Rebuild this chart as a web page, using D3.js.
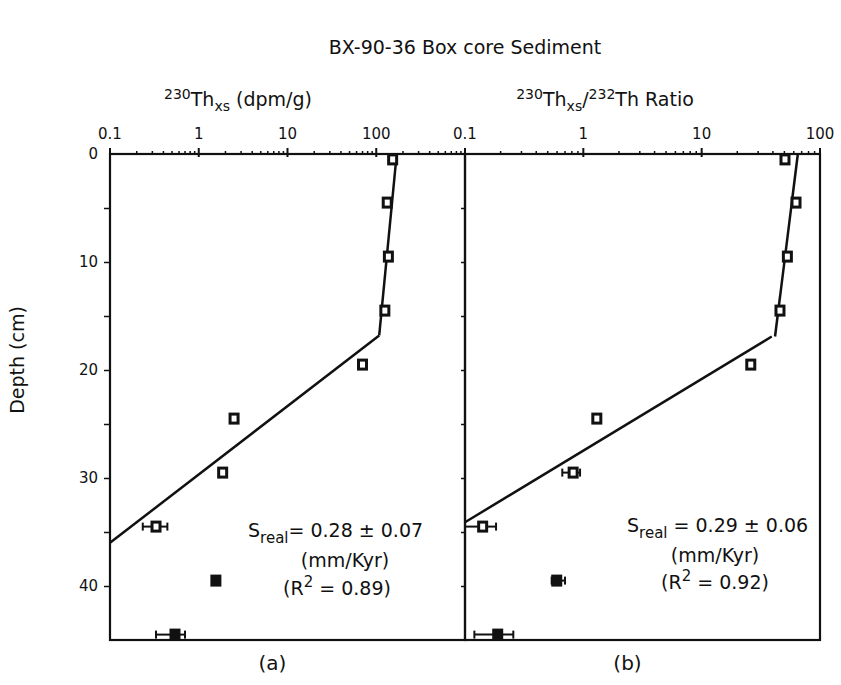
<!DOCTYPE html>
<html lang="en">

<head>
  <meta charset="utf-8">
  <title>BX-90-36 Box core Sediment</title>
  <script type="text/javascript" src="https://cdn.jsdelivr.net/npm/d3@7"></script>
  <style>
    body { margin: 0; background: #fff; }
    text { font-family: "DejaVu Sans", sans-serif; fill: #111; }
  </style>
</head>

<body>

  <script type="text/javascript">

    // Sample depths (cm), same for both panels
    var depth = [0.5, 4.5, 9.5, 14.5, 19.5, 24.5, 29.5, 34.5, 39.5, 44.5];

    // Filled squares = points left out of the fit
    var filled = [false, false, false, false, false, false, false, false, true, true];

    // Panel (a): 230Th excess (dpm/g)
    var thxs = [153, 133, 137, 125, 70, 2.5, 1.86, 0.33, 1.56, 0.54];
    var thxsLow = [null, null, null, null, null, null, null, 0.234, null, 0.33];
    var thxsHigh = [null, null, null, null, null, null, null, 0.443, null, 0.70];

    // Panel (b): 230Th excess / 232Th ratio
    var ratio = [50.6, 62.7, 53, 45.9, 26, 1.30, 0.82, 0.141, 0.596, 0.189];
    var ratioLow = [null, null, null, null, null, null, 0.664, 0.1, 0.54, 0.12];
    var ratioHigh = [null, null, null, null, null, null, 0.938, 0.183, 0.70, 0.256];

    // Fit lines as [value, depth] pairs
    var fitA = [[[170, 0], [108, 16.8]], [[108, 16.8], [0.1, 36.0]]];
    var fitB = [[[65, 0], [41.7, 16.9]], [[39.1, 16.9], [0.1, 34.1]]];

    var depthTicks = [0, 10, 20, 30, 40];

    var w = 841;
    var h = 685;
    var yTop = 154;
    var yBottom = 640;

    var svg = d3.select("body")
      .append("svg")
      .attr("width", w)
      .attr("height", h);

    // Depth scale shared by both panels
    var yScale = d3.scaleLinear()
      .domain([0, 45])
      .range([yTop, yBottom]);

    var panels = [
      {
        x0: 110, x1: 465, domain: [0.1, 1000], labels: [0.1, 1, 10, 100],
        values: thxs, low: thxsLow, high: thxsHigh, fit: fitA, tag: "(a)",
        sreal: "= 0.28 \u00b1 0.07", r2: "0.89",
        sx: 248, sy: 537, nx: 345, ny: 567, rx: 337, ry: 595
      },
      {
        x0: 465, x1: 820, domain: [0.1, 100], labels: [0.1, 1, 10, 100],
        values: ratio, low: ratioLow, high: ratioHigh, fit: fitB, tag: "(b)",
        sreal: " = 0.29 \u00b1 0.06", r2: "0.92",
        sx: 627, sy: 532, nx: 715, ny: 562, rx: 715, ry: 589
      }
    ];

    panels.forEach(function (p) {

      var xScale = d3.scaleLog()
        .domain(p.domain)
        .range([p.x0, p.x1]);

      var g = svg.append("g");

      // Minor log ticks on the top edge
      var minor = [];
      var lo = Math.log10(p.domain[0]), hi = Math.log10(p.domain[1]);
      for (var e = lo; e < hi - 0.01; e++) {
        for (var k = 2; k <= 9; k++) minor.push(k * Math.pow(10, e));
      }
      g.selectAll(".minor")
        .data(minor)
        .enter()
        .append("line")
        .attr("x1", function (d) { return xScale(d); })
        .attr("x2", function (d) { return xScale(d); })
        .attr("y1", yTop)
        .attr("y2", yTop - 3)
        .attr("stroke", "#111")
        .attr("stroke-width", 1.5);

      // Major ticks
      g.selectAll(".major")
        .data(p.labels)
        .enter()
        .append("line")
        .attr("x1", function (d) { return xScale(d); })
        .attr("x2", function (d) { return xScale(d); })
        .attr("y1", yTop - 6)
        .attr("y2", yTop + 3)
        .attr("stroke", "#111")
        .attr("stroke-width", 2);

      // Tick labels
      g.selectAll(".xlab")
        .data(p.labels)
        .enter()
        .append("text")
        .attr("x", function (d) { return xScale(d); })
        .attr("y", yTop - 15)
        .attr("text-anchor", "middle")
        .attr("font-size", "15px")
        .text(function (d) { return d; });

      // Frame
      g.append("rect")
        .attr("x", p.x0)
        .attr("y", yTop)
        .attr("width", p.x1 - p.x0)
        .attr("height", yBottom - yTop)
        .attr("fill", "none")
        .attr("stroke", "#111")
        .attr("stroke-width", 2.2);

      // Fit lines
      var line = d3.line()
        .x(function (d) { return xScale(d[0]); })
        .y(function (d) { return yScale(d[1]); });

      g.selectAll(".fit")
        .data(p.fit)
        .enter()
        .append("path")
        .attr("d", line)
        .attr("fill", "none")
        .attr("stroke", "#111")
        .attr("stroke-width", 2.5);

      // Error bars
      var bars = d3.range(depth.length).filter(function (i) { return p.low[i] != null; });
      bars.forEach(function (i) {
        var yy = yScale(depth[i]);
        g.append("line")
          .attr("x1", xScale(p.low[i])).attr("x2", xScale(p.high[i]))
          .attr("y1", yy).attr("y2", yy)
          .attr("stroke", "#111").attr("stroke-width", 2);
        [p.low[i], p.high[i]].forEach(function (v) {
          g.append("line")
            .attr("x1", xScale(v)).attr("x2", xScale(v))
            .attr("y1", yy - 4).attr("y2", yy + 4)
            .attr("stroke", "#111").attr("stroke-width", 2);
        });
      });

      // Data squares
      g.selectAll(".pt")
        .data(p.values)
        .enter()
        .append("rect")
        .attr("x", function (d) { return xScale(d) - 4; })
        .attr("y", function (d, i) { return yScale(depth[i]) - 4.5; })
        .attr("width", 8)
        .attr("height", 9)
        .attr("fill", function (d, i) { return filled[i] ? "#111" : "#fff"; })
        .attr("stroke", "#111")
        .attr("stroke-width", 3);

      // Fit annotation
      var s = g.append("text")
        .attr("x", p.sx)
        .attr("y", p.sy)
        .attr("font-size", "19px");
      s.append("tspan").text("S");
      s.append("tspan").attr("dy", 6).attr("font-size", "15px").text("real");
      s.append("tspan").attr("dy", -6).text(p.sreal);

      g.append("text")
        .attr("x", p.nx)
        .attr("y", p.ny)
        .attr("text-anchor", "middle")
        .attr("font-size", "19px")
        .text("(mm/Kyr)");

      var r = g.append("text")
        .attr("x", p.rx)
        .attr("y", p.ry)
        .attr("text-anchor", "middle")
        .attr("font-size", "19px");
      r.append("tspan").text("(R");
      r.append("tspan").attr("dy", -8).attr("font-size", "15px").text("2");
      r.append("tspan").attr("dy", 8).text(" = " + p.r2 + ")");

      // Panel tag
      g.append("text")
        .attr("x", (p.x0 + p.x1) / 2 - 15)
        .attr("y", 670)
        .attr("text-anchor", "middle")
        .attr("font-size", "20px")
        .text(p.tag);
    });

    // Depth axis ticks on the left
    var yAxis = d3.axisLeft(yScale)
      .tickValues([5, 10, 15, 20, 25, 30, 35, 40])
      .tickSize(6)
      .tickFormat("");

    svg.append("g")
      .attr("transform", "translate(110,0)")
      .call(yAxis)
      .call(function (a) {
        a.select(".domain").remove();
        a.selectAll("line").attr("stroke", "#111").attr("stroke-width", 1.5);
      });

    svg.selectAll(".ylab")
      .data(depthTicks)
      .enter()
      .append("text")
      .attr("x", 98)
      .attr("y", function (d) { return yScale(d) + 5; })
      .attr("text-anchor", "end")
      .attr("font-size", "15px")
      .text(function (d) { return d; });

    // Ticks on the shared middle edge, pointing into panel (a)
    svg.append("g")
      .attr("transform", "translate(465,0)")
      .call(d3.axisLeft(yScale).tickValues([5, 10, 15, 20, 25, 30, 35, 40]).tickSize(4).tickFormat(""))
      .call(function (a) {
        a.select(".domain").remove();
        a.selectAll("line").attr("stroke", "#111").attr("stroke-width", 1.5);
      });

    // Depth axis title
    svg.append("text")
      .attr("transform", "translate(24,360) rotate(-90)")
      .attr("text-anchor", "middle")
      .attr("font-size", "19px")
      .text("Depth (cm)");

    // Main title
    svg.append("text")
      .attr("x", 465)
      .attr("y", 54)
      .attr("text-anchor", "middle")
      .attr("font-size", "19px")
      .text("BX-90-36  Box core Sediment");

    // Panel titles
    var t1 = svg.append("text")
      .attr("x", 238)
      .attr("y", 106)
      .attr("text-anchor", "middle")
      .attr("font-size", "19px");
    t1.append("tspan").attr("dy", -7).attr("font-size", "14px").text("230");
    t1.append("tspan").attr("dy", 7).text("Th");
    t1.append("tspan").attr("dy", 5).attr("font-size", "14px").text("xs");
    t1.append("tspan").attr("dy", -5).text(" (dpm/g)");

    var t2 = svg.append("text")
      .attr("x", 605)
      .attr("y", 106)
      .attr("text-anchor", "middle")
      .attr("font-size", "19px");
    t2.append("tspan").attr("dy", -7).attr("font-size", "14px").text("230");
    t2.append("tspan").attr("dy", 7).text("Th");
    t2.append("tspan").attr("dy", 5).attr("font-size", "14px").text("xs");
    t2.append("tspan").attr("dy", -5).text("/");
    t2.append("tspan").attr("dy", -7).attr("font-size", "14px").text("232");
    t2.append("tspan").attr("dy", 7).text("Th Ratio");

  </script>

</body>

</html>
